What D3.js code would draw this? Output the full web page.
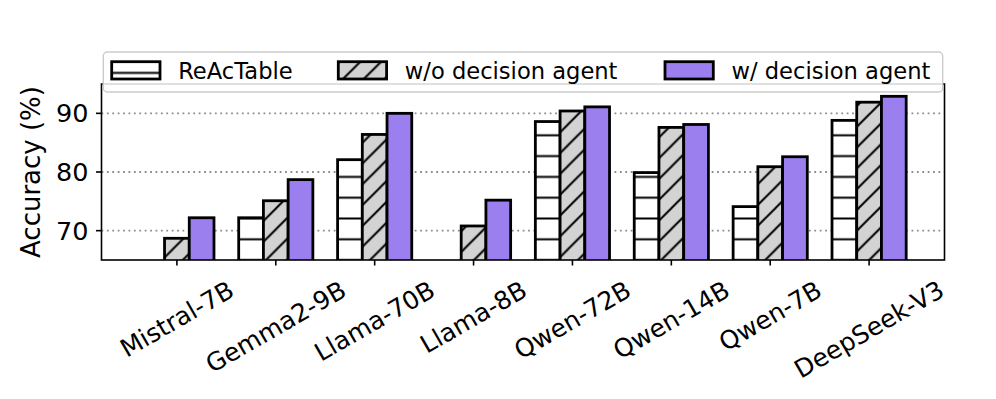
<!DOCTYPE html>
<html>
<head>
<meta charset="utf-8">
<script src="https://cdn.jsdelivr.net/npm/d3@7"></script>
<style>
  body { margin: 0; background: #fff; }
  text { font-family: "DejaVu Sans", sans-serif; fill: #000; }
</style>
</head>
<body>
<svg id="svg" width="996" height="399"></svg>
<script>
let models = ['Mistral-7B', 'Gemma2-9B', 'Llama-70B', 'Llama-8B', 'Qwen-72B', 'Qwen-14B', 'Qwen-7B', 'DeepSeek-V3'];
let reactable = [null, 72.2, 82.1, null, 88.6, 79.9, 74.1, 88.8];
let woAgent = [68.7, 75.1, 86.4, 70.8, 90.4, 87.6, 80.9, 91.9];
let wAgent = [72.2, 78.7, 90.0, 75.2, 91.1, 88.1, 82.6, 92.9];
let yTicks = [70, 80, 90];
let seriesNames = ['ReAcTable', 'w/o decision agent', 'w/ decision agent'];

let axLeft = 101.5, axRight = 944.5, axTop = 84, axBottom = 260;
let svg = d3.select('#svg');

let xScale = d3.scaleLinear().domain([-0.7625, 7.7625]).range([axLeft, axRight]);
let yScale = d3.scaleLinear().domain([65, 95]).range([axBottom, axTop]);

// hatch patterns, anchored on the page like matplotlib does
let defs = svg.append('defs');
let hs = 20.8;
let hp = defs.append('pattern').attr('id', 'hatchH')
  .attr('patternUnits', 'userSpaceOnUse')
  .attr('width', hs).attr('height', hs)
  .attr('x', 0).attr('y', 239.3 % hs - hs / 2);
hp.append('rect').attr('width', hs).attr('height', hs).attr('fill', '#fff');
hp.append('line').attr('x1', 0).attr('x2', hs).attr('y1', hs / 2).attr('y2', hs / 2)
  .attr('stroke', '#000').attr('stroke-width', 2);

let dp = defs.append('pattern').attr('id', 'hatchD')
  .attr('patternUnits', 'userSpaceOnUse')
  .attr('width', hs).attr('height', hs)
  .attr('x', 6).attr('y', 0);
dp.append('rect').attr('width', hs).attr('height', hs).attr('fill', '#d3d3d3');
[[-hs / 2, hs / 2, hs / 2, -hs / 2], [0, hs, hs, 0], [hs / 2, hs * 1.5, hs * 1.5, hs / 2]].forEach(d => {
  dp.append('line').attr('x1', d[0]).attr('y1', d[1]).attr('x2', d[2]).attr('y2', d[3])
    .attr('stroke', '#000').attr('stroke-width', 2);
});

let fills = ['url(#hatchH)', 'url(#hatchD)', '#9b7fef'];

svg.append('clipPath').attr('id', 'axclip')
  .append('rect')
  .attr('x', axLeft).attr('y', axTop)
  .attr('width', axRight - axLeft).attr('height', axBottom - axTop);

// grid
svg.append('g').selectAll('line')
  .data(yTicks)
  .enter()
  .append('line')
  .attr('x1', axLeft).attr('x2', axRight)
  .attr('y1', d => yScale(d)).attr('y2', d => yScale(d))
  .attr('stroke', '#8c8c8c')
  .attr('stroke-width', 1.8)
  .attr('stroke-dasharray', '1.8,3.6');

// bars
let series = [reactable, woAgent, wAgent];
let barW = 0.25;
let gBars = svg.append('g').attr('clip-path', 'url(#axclip)');
series.forEach((vals, s) => {
  let offset = (s - 1) * barW;
  gBars.append('g').selectAll('rect')
    .data(vals.map((v, i) => ({i, v})).filter(d => d.v !== null))
    .enter()
    .append('rect')
    .attr('x', d => xScale(d.i + offset - barW / 2))
    .attr('width', xScale(barW) - xScale(0))
    .attr('y', d => yScale(d.v))
    .attr('height', d => yScale(60) - yScale(d.v))
    .attr('fill', fills[s])
    .attr('stroke', '#000')
    .attr('stroke-width', 2.8);
});

// spines
let gAx = svg.append('g');
gAx.append('rect')
  .attr('x', axLeft).attr('y', axTop)
  .attr('width', axRight - axLeft).attr('height', axBottom - axTop)
  .attr('fill', 'none').attr('stroke', '#000').attr('stroke-width', 1.6);

// y ticks
let gY = gAx.append('g');
yTicks.forEach(t => {
  gY.append('line')
    .attr('x1', axLeft - 5.5).attr('x2', axLeft)
    .attr('y1', yScale(t)).attr('y2', yScale(t))
    .attr('stroke', '#000').attr('stroke-width', 1.6);
  gY.append('text')
    .attr('x', 88.5).attr('y', yScale(t))
    .attr('dy', '0.35em')
    .attr('text-anchor', 'end')
    .attr('font-size', 25.5)
    .text(t);
});

svg.append('text')
  .attr('transform', `translate(40,${(axTop + axBottom) / 2}) rotate(-90)`)
  .attr('text-anchor', 'middle')
  .attr('font-size', 26)
  .text('Accuracy (%)');

// x ticks and rotated labels
let fs = 25;
let labelTop = 275;
models.forEach((m, i) => {
  let x = xScale(i);
  gAx.append('line')
    .attr('x1', x).attr('x2', x)
    .attr('y1', axBottom).attr('y2', axBottom + 5.5)
    .attr('stroke', '#000').attr('stroke-width', 1.6);
  let t = svg.append('text')
    .attr('text-anchor', 'middle')
    .attr('dy', '0.346em')
    .attr('font-size', fs)
    .text(m);
  let len = t.node().getComputedTextLength();
  let h = len * 0.5 + 1.164 * fs * Math.cos(Math.PI / 6);
  t.attr('transform', `translate(${x},${labelTop + h / 2}) rotate(-30)`);
});

// legend
let gLeg = svg.append('g');
gLeg.append('rect')
  .attr('x', 103.3).attr('y', 52)
  .attr('width', 942.7 - 103.3).attr('height', 40)
  .attr('rx', 4)
  .attr('fill', '#fff').attr('fill-opacity', 0.85)
  .attr('stroke', '#cccccc').attr('stroke-width', 1.4);
let legX = [111.7, 338.3, 665];
seriesNames.forEach((name, s) => {
  gLeg.append('rect')
    .attr('x', legX[s]).attr('y', 61.7)
    .attr('width', 48.3).attr('height', 17.3)
    .attr('fill', fills[s])
    .attr('stroke', '#000').attr('stroke-width', 2.8);
  gLeg.append('text')
    .attr('x', legX[s] + 66.5).attr('y', 79)
    .attr('font-size', 22.6)
    .text(name);
});
</script>
</body>
</html>
